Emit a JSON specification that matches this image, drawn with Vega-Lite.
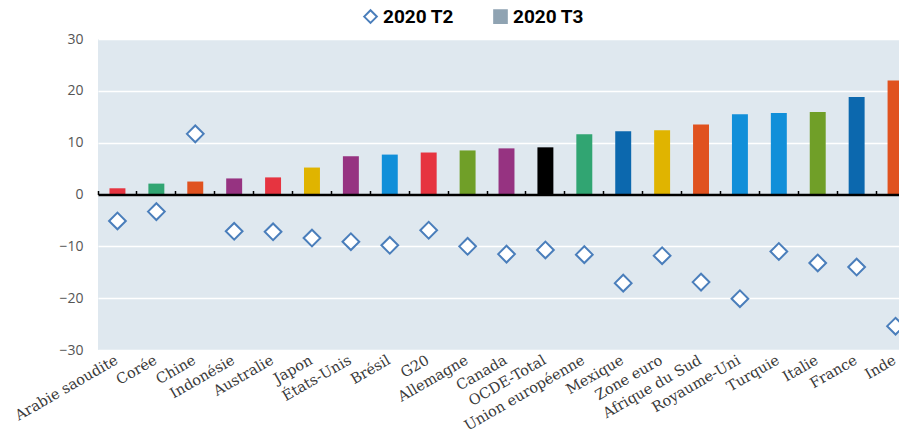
{
  "$schema": "https://vega.github.io/schema/vega-lite/v6.json",
  "width": 801,
  "height": 311,
  "autosize": {"type": "none"},
  "padding": {"left": 98, "top": 39, "right": 0, "bottom": 82},
  "background": "white",
  "data": {
    "values": [
      {"pays": "Arabie saoudite", "2020 T3": 1.2, "2020 T2": -5.1},
      {"pays": "Corée", "2020 T3": 2.1, "2020 T2": -3.3},
      {"pays": "Chine", "2020 T3": 2.5, "2020 T2": 11.7},
      {"pays": "Indonésie", "2020 T3": 3.1, "2020 T2": -7.1},
      {"pays": "Australie", "2020 T3": 3.3, "2020 T2": -7.2},
      {"pays": "Japon", "2020 T3": 5.2, "2020 T2": -8.4},
      {"pays": "États-Unis", "2020 T3": 7.4, "2020 T2": -9.1},
      {"pays": "Brésil", "2020 T3": 7.7, "2020 T2": -9.8},
      {"pays": "G20", "2020 T3": 8.1, "2020 T2": -6.9},
      {"pays": "Allemagne", "2020 T3": 8.5, "2020 T2": -10.0},
      {"pays": "Canada", "2020 T3": 8.9, "2020 T2": -11.5},
      {"pays": "OCDE-Total", "2020 T3": 9.1, "2020 T2": -10.7},
      {"pays": "Union européenne", "2020 T3": 11.6, "2020 T2": -11.6},
      {"pays": "Mexique", "2020 T3": 12.2, "2020 T2": -17.1},
      {"pays": "Zone euro", "2020 T3": 12.4, "2020 T2": -11.8},
      {"pays": "Afrique du Sud", "2020 T3": 13.5, "2020 T2": -16.9},
      {"pays": "Royaume-Uni", "2020 T3": 15.5, "2020 T2": -20.1},
      {"pays": "Turquie", "2020 T3": 15.7, "2020 T2": -11.0},
      {"pays": "Italie", "2020 T3": 15.9, "2020 T2": -13.2},
      {"pays": "France", "2020 T3": 18.8, "2020 T2": -14.0},
      {"pays": "Inde", "2020 T3": 22.0, "2020 T2": -25.4}
    ]
  },
  "resolve": {"axis": {"x": "independent"}},
  "layer": [
    {
      "mark": {"type": "bar", "width": {"band": 0.41}, "clip": true},
      "encoding": {
        "x": {
          "field": "pays", "type": "nominal", "sort": null,
          "scale": {"range": [0, 817], "paddingInner": 0, "paddingOuter": 0},
          "axis": {
            "title": null, "orient": "bottom", "domain": false, "ticks": false, "grid": false,
            "labelAngle": -30, "labelAlign": "right", "labelBaseline": "top",
            "labelFont": "DejaVu Serif", "labelFontSize": 14.5, "labelColor": "#3a3a3a",
            "labelPadding": 3, "labelOffset": -4, "labelOverlap": false, "labelBound": false
          }
        },
        "y": {
          "field": "2020 T3", "type": "quantitative",
          "scale": {"domain": [-30, 30], "nice": false},
          "axis": {
            "title": null, "values": [-30, -20, -10, 0, 10, 20, 30],
            "domain": false, "ticks": false, "grid": true,
            "gridColor": "#ffffff", "gridWidth": 1.5,
            "labelFont": "Open Sans", "labelFontSize": 14, "labelColor": "#555555", "labelPadding": 15
          }
        },
        "color": {
          "field": "pays", "type": "nominal", "legend": null,
          "scale": {
            "domain": ["Arabie saoudite", "Corée", "Chine", "Indonésie", "Australie", "Japon", "États-Unis", "Brésil", "G20", "Allemagne", "Canada", "OCDE-Total", "Union européenne", "Mexique", "Zone euro", "Afrique du Sud", "Royaume-Uni", "Turquie", "Italie", "France", "Inde"],
            "range": ["#e63440", "#31a572", "#e0521f", "#963381", "#e63440", "#e0b400", "#963381", "#118fd9", "#e63440", "#709f28", "#963381", "#000000", "#31a572", "#0c68ae", "#e0b400", "#e0521f", "#118fd9", "#118fd9", "#709f28", "#0c68ae", "#e0521f"]
          }
        }
      }
    },
    {
      "transform": [{"fold": ["2020 T2"], "as": ["serie", "valeur"]}],
      "mark": {"type": "point", "filled": true, "size": 280, "strokeWidth": 2, "opacity": 1, "clip": true},
      "encoding": {
        "x": {
          "field": "pays", "type": "nominal", "sort": null,
          "axis": {
            "title": null, "orient": "top", "offset": -155.5, "labels": false, "grid": false,
            "domain": true, "domainColor": "#000000", "domainWidth": 2.5,
            "ticks": true, "tickColor": "#000000", "tickWidth": 1.5, "tickSize": 4,
            "bandPosition": 0, "zindex": 1
          }
        },
        "y": {"field": "valeur", "type": "quantitative"},
        "fill": {
          "field": "serie", "type": "nominal", "title": null,
          "scale": {"domain": ["2020 T2", "2020 T3"], "range": ["#ffffff", "#8fa3b2"]}
        },
        "stroke": {
          "field": "serie", "type": "nominal", "title": null,
          "scale": {"domain": ["2020 T2", "2020 T3"], "range": ["#4a7ebb", "#8fa3b2"]}
        },
        "shape": {
          "field": "serie", "type": "nominal", "title": null,
          "scale": {"domain": ["2020 T2", "2020 T3"], "range": ["diamond", "square"]}
        }
      }
    }
  ],
  "config": {
    "view": {"stroke": null, "fill": "#dfe8ef"},
    "legend": {
      "orient": "none", "legendX": 263, "legendY": -32, "direction": "horizontal",
      "columnPadding": 36,
      "labelFont": "Roboto", "labelFontWeight": "bold", "labelFontSize": 19,
      "labelColor": "#000000", "symbolSize": 160, "symbolStrokeWidth": 2, "labelOffset": 3
    }
  }
}
